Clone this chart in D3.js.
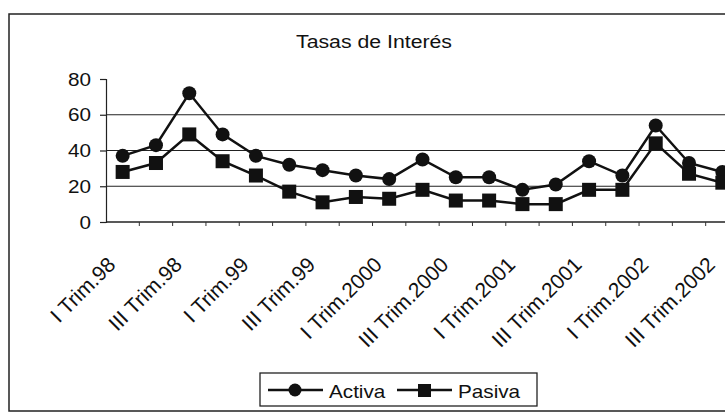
<!DOCTYPE html>
<html>
<head>
<meta charset="utf-8">
<script src="https://cdn.jsdelivr.net/npm/d3@7"></script>
<style>
  body { margin: 0; background: #fff; }
  svg text { font-family: "Liberation Sans", Arial, sans-serif; fill: #111; }
</style>
</head>
<body>
<svg id="chart" width="725" height="416" viewBox="0 0 725 416"></svg>
<script>
// quarters, I Trim.98 .. III Trim.2002
const quarters = [
  "I Trim.98", "II Trim.98", "III Trim.98", "IV Trim.98",
  "I Trim.99", "II Trim.99", "III Trim.99", "IV Trim.99",
  "I Trim.2000", "II Trim.2000", "III Trim.2000", "IV Trim.2000",
  "I Trim.2001", "II Trim.2001", "III Trim.2001", "IV Trim.2001",
  "I Trim.2002", "II Trim.2002", "III Trim.2002"
];
const activa = [37, 43, 72, 49, 37, 32, 29, 26, 24, 35, 25, 25, 18, 21, 34, 26, 54, 33, 28];
const pasiva = [28, 33, 49, 34, 26, 17, 11, 14, 13, 18, 12, 12, 10, 10, 18, 18, 44, 27, 22];
const yTicks = [0, 20, 40, 60, 80];
const seriesNames = ["Activa", "Pasiva"];

const svg = d3.select("#chart");
const sx = 1.15; // scanned text looks wider than plain Arial

// outer chart frame (right side runs off the picture)
svg.append("path")
  .attr("d", "M740,14 L9,14 L9,411 L740,411")
  .attr("fill", "none")
  .attr("stroke", "#222")
  .attr("stroke-width", 1.5);

svg.append("text")
  .attr("transform", `translate(374,48) scale(${sx},1)`)
  .attr("text-anchor", "middle")
  .attr("font-size", 18.5)
  .text("Tasas de Interés");

const x = d3.scaleBand().domain(quarters).range([106, 739]);
const y = d3.scaleLinear().domain([0, 80]).range([222, 79]);
const cx = d => x(d) + x.bandwidth() / 2;

// gridlines (none at 80)
svg.append("g").selectAll("line")
  .data(yTicks.filter(t => t > 0 && t < 80))
  .enter().append("line")
  .attr("x1", 106).attr("x2", 740)
  .attr("y1", d => y(d)).attr("y2", d => y(d))
  .attr("stroke", "#222").attr("stroke-width", 1.2);

// y axis
const yAxis = svg.append("g")
  .attr("transform", "translate(106,0)")
  .call(d3.axisLeft(y).tickValues(yTicks).tickSize(6).tickPadding(0).tickFormat(d3.format("d")));
yAxis.select(".domain").attr("stroke", "#222").attr("stroke-width", 1.2);
yAxis.selectAll(".tick line").attr("stroke", "#222").attr("stroke-width", 1.2);
yAxis.selectAll(".tick text").remove();
yAxis.selectAll(".tick").append("text")
  .attr("transform", `translate(-15,6) scale(${sx},1)`)
  .attr("text-anchor", "end")
  .attr("font-size", 18)
  .text(d => d);

// x axis line + ticks at category boundaries
svg.append("line")
  .attr("x1", 106).attr("x2", 740)
  .attr("y1", y(0)).attr("y2", y(0))
  .attr("stroke", "#222").attr("stroke-width", 1.5);
svg.append("g").selectAll("line")
  .data(d3.range(1, quarters.length))
  .enter().append("line")
  .attr("x1", i => 106 + i * x.step()).attr("x2", i => 106 + i * x.step())
  .attr("y1", y(0)).attr("y2", y(0) + 4)
  .attr("stroke", "#333").attr("stroke-width", 1);

// rotated category labels, every other quarter
svg.append("g").selectAll("text")
  .data(quarters.filter((q, i) => i % 2 === 0))
  .enter().append("text")
  .attr("transform", d => `translate(${cx(d) - 6},266) rotate(-45)`)
  .attr("text-anchor", "end")
  .attr("font-size", 21)
  .text(d => d);

// series
const line = d3.line().x((v, i) => cx(quarters[i])).y(v => y(v));
[activa, pasiva].forEach(vals => {
  svg.append("path")
    .datum(vals)
    .attr("d", line)
    .attr("fill", "none")
    .attr("stroke", "#111")
    .attr("stroke-width", 2.5);
});

svg.append("g").selectAll("circle")
  .data(activa)
  .enter().append("circle")
  .attr("cx", (v, i) => cx(quarters[i]))
  .attr("cy", v => y(v))
  .attr("r", 7)
  .attr("fill", "#111");

svg.append("g").selectAll("rect")
  .data(pasiva)
  .enter().append("rect")
  .attr("x", (v, i) => cx(quarters[i]) - 7)
  .attr("y", v => y(v) - 7)
  .attr("width", 14).attr("height", 14)
  .attr("fill", "#111");

// legend
const legend = svg.append("g");
legend.append("rect")
  .attr("x", 260).attr("y", 373).attr("width", 277).attr("height", 33)
  .attr("fill", "#fff").attr("stroke", "#222").attr("stroke-width", 1.3);

const items = [{ name: seriesNames[0], x0: 268 }, { name: seriesNames[1], x0: 397 }];
items.forEach((it, k) => {
  legend.append("line")
    .attr("x1", it.x0).attr("x2", it.x0 + 55)
    .attr("y1", 390).attr("y2", 390)
    .attr("stroke", "#111").attr("stroke-width", 2.5);
  if (k === 0) {
    legend.append("circle").attr("cx", it.x0 + 27).attr("cy", 390).attr("r", 6.5).attr("fill", "#111");
  } else {
    legend.append("rect").attr("x", it.x0 + 21).attr("y", 384).attr("width", 13).attr("height", 13).attr("fill", "#111");
  }
  legend.append("text")
    .attr("transform", `translate(${it.x0 + 61},398) scale(${sx},1)`)
    .attr("font-size", 18)
    .text(it.name);
});
</script>
</body>
</html>
